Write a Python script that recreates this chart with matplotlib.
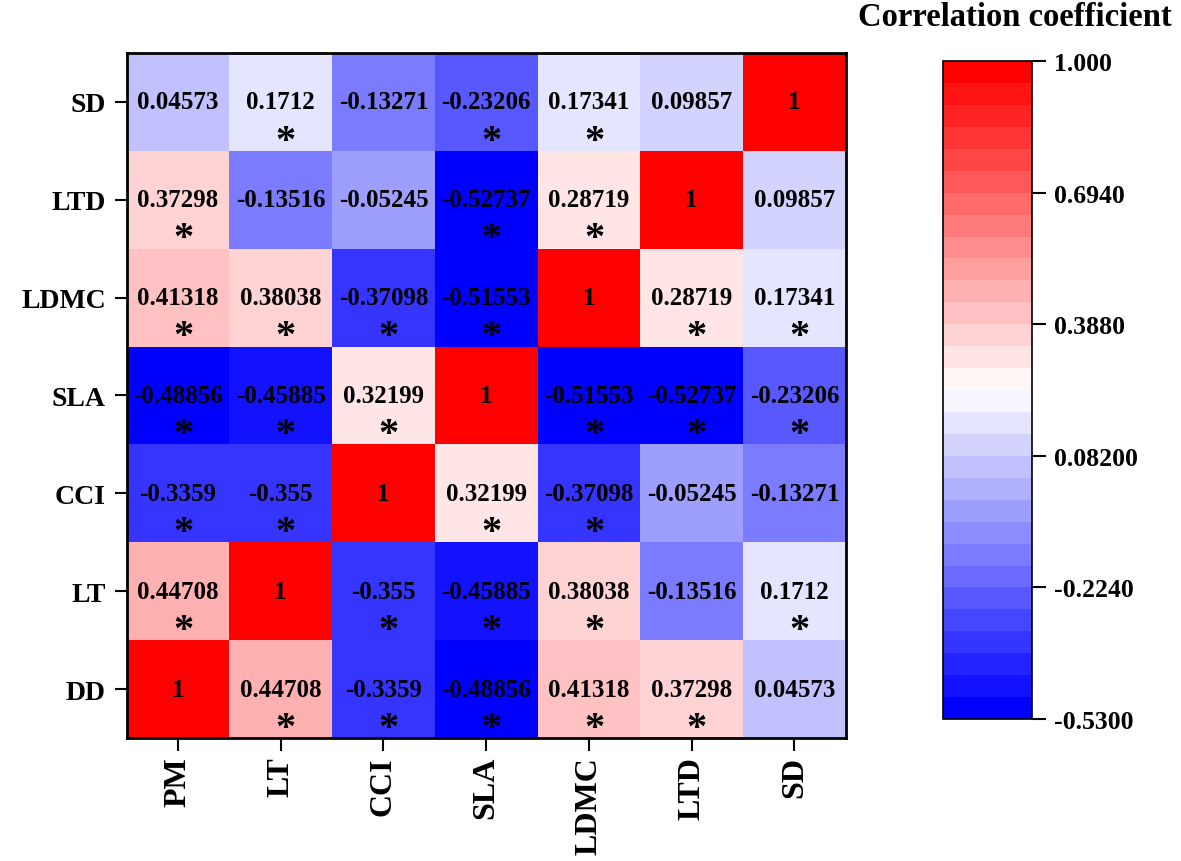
import numpy as np
import matplotlib.pyplot as plt
from matplotlib.colors import BoundaryNorm

plt.rcParams['font.family'] = ['Liberation Serif', 'DejaVu Serif']
plt.rcParams['font.weight'] = 'bold'

# variable order of the matrix (columns, left to right)
col_labels = ['PM', 'LT', 'CCI', 'SLA', 'LDMC', 'LTD', 'SD']
# row labels, bottom to top
row_labels = ['DD', 'LT', 'CCI', 'SLA', 'LDMC', 'LTD', 'SD']

corr = [
    [1, 0.44708, -0.3359, -0.48856, 0.41318, 0.37298, 0.04573],
    [0.44708, 1, -0.355, -0.45885, 0.38038, -0.13516, 0.1712],
    [-0.3359, -0.355, 1, 0.32199, -0.37098, -0.05245, -0.13271],
    [-0.48856, -0.45885, 0.32199, 1, -0.51553, -0.52737, -0.23206],
    [0.41318, 0.38038, -0.37098, -0.51553, 1, 0.28719, 0.17341],
    [0.37298, -0.13516, -0.05245, -0.52737, 0.28719, 1, 0.09857],
    [0.04573, 0.1712, -0.13271, -0.23206, 0.17341, 0.09857, 1],
]
# 1 = significant (asterisk)
signif = [
    [0, 1, 1, 1, 1, 1, 0],
    [1, 0, 1, 1, 1, 0, 1],
    [1, 1, 0, 1, 1, 0, 0],
    [1, 1, 1, 0, 1, 1, 1],
    [1, 1, 1, 1, 0, 1, 1],
    [1, 0, 0, 1, 1, 0, 0],
    [0, 1, 0, 1, 1, 0, 0],
]

cbar_ticks = [-0.53, -0.224, 0.082, 0.388, 0.694, 1.0]
cbar_ticklabels = ['-0.5300', '-0.2240', '0.08200', '0.3880', '0.6940', '1.000']
n_levels = 30

corr = np.array(corr)
signif = np.array(signif)

bounds = np.linspace(cbar_ticks[0], cbar_ticks[-1], n_levels + 1)
cmap = plt.get_cmap('bwr', n_levels)
norm = BoundaryNorm(bounds, n_levels)

fig = plt.figure(figsize=(11.81, 8.62), dpi=100)
ax = fig.add_axes([0.1072, 0.1427, 0.609, 0.7947])

mesh = ax.pcolormesh(np.arange(8), np.arange(8), corr, cmap=cmap, norm=norm)
ax.set_xlim(0, 7)
ax.set_ylim(0, 7)

for i in range(7):
    for j in range(7):
        v = corr[i, j]
        ax.text(j + 0.5, i + 0.5, f"{v:g}", ha='center', va='center',
                fontsize=18, color='black')
        if signif[i, j]:
            ax.text(j + 0.55, i + 0.1, '*', ha='center', va='center',
                    fontsize=29, color='black')

ax.set_xticks(np.arange(7) + 0.5)
ax.set_xticklabels(col_labels, rotation=90, fontsize=23)
ax.set_yticks(np.arange(7) + 0.5)
ax.set_yticklabels(row_labels, fontsize=20)
ax.tick_params(length=9, width=1.5, pad=4)
ax.tick_params(axis='y', pad=6)
for s in ax.spines.values():
    s.set_linewidth(2)

cax = fig.add_axes([0.7985, 0.1647, 0.0754, 0.7633])
cb = fig.colorbar(mesh, cax=cax, ticks=cbar_ticks)
cb.set_ticklabels(cbar_ticklabels)
cb.outline.set_linewidth(1.2)
cax.minorticks_off()
cax.tick_params(length=10, width=1.5, labelsize=18.5, pad=6)

fig.text(0.859, 0.980, 'Correlation coefficient', ha='center', va='center',
         fontsize=23.5)

fig.savefig('out.png', dpi=100)
